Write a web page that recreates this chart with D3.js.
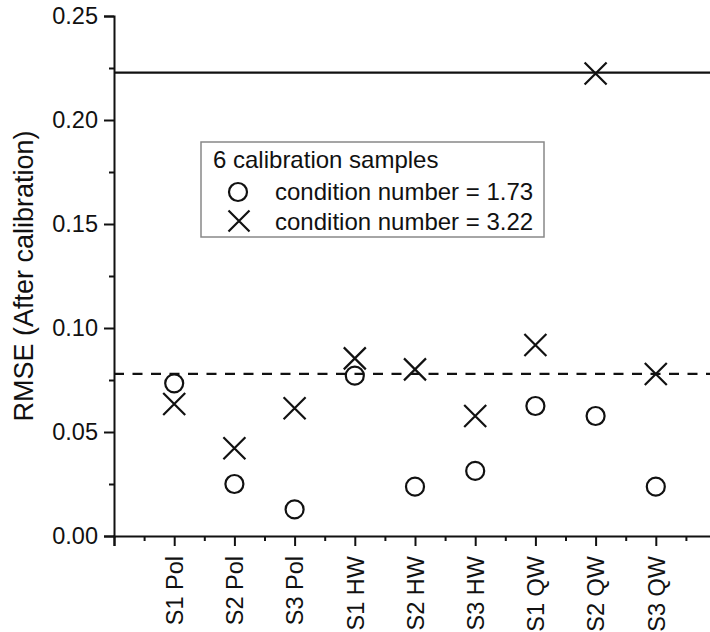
<!DOCTYPE html>
<html><head><meta charset="utf-8">
<script src="https://cdn.jsdelivr.net/npm/d3@7"></script>
<style>body{margin:0;background:#fff}svg{display:block}text{font-family:"Liberation Sans",Arial,sans-serif;fill:#111}</style>
</head><body><svg id="c" width="710" height="632"></svg>
<script>
const categories = ["S1 Pol","S2 Pol","S3 Pol","S1 HW","S2 HW","S3 HW","S1 QW","S2 QW","S3 QW"];
const rmseCond173 = [0.0734,0.0250,0.0128,0.0771,0.0237,0.0313,0.0625,0.0577,0.0237];
const rmseCond322 = [0.0635,0.0422,0.0614,0.0854,0.0801,0.0577,0.0918,0.2224,0.0779];
const solidRef = 0.2228;
const dashedRef = 0.0779;
const yMajorTicks = [0,0.05,0.10,0.15,0.20,0.25];
const yMinorTicks = [0.025,0.075,0.125,0.175,0.225];
const legendTitle = "6 calibration samples";
const legendLabels = ["condition number = 1.73","condition number = 3.22"];
const yTitle = "RMSE (After calibration)";

const svg = d3.select("#c");
const x = d3.scaleLinear().domain([0,10]).range([114,716]);
const y = d3.scaleLinear().domain([0,0.25]).range([536,16]);
const ink = "#111";

// reference lines
svg.append("line").attr("x1",x(0)).attr("x2",710).attr("y1",y(solidRef)).attr("y2",y(solidRef))
  .attr("stroke",ink).attr("stroke-width",2.2);
svg.append("line").attr("x1",x(0)).attr("x2",710).attr("y1",y(dashedRef)).attr("y2",y(dashedRef))
  .attr("stroke",ink).attr("stroke-width",2.2).attr("stroke-dasharray","10,8.5");

// y axis
const yAxis = d3.axisLeft(y).tickValues(yMajorTicks).tickSize(10).tickPadding(6).tickFormat(d3.format(".2f"));
const gy = svg.append("g").attr("transform",`translate(${x(0)},0)`).call(yAxis);
gy.selectAll("text").style("font-size","23.5px").attr("fill",ink);
svg.append("g").attr("transform",`translate(${x(0)},0)`)
  .call(d3.axisLeft(y).tickValues(yMinorTicks).tickSize(5).tickFormat(""))
  .select(".domain").remove();

// x axis
const catPos = categories.map((c,i)=>i+1);
const xAxis = d3.axisBottom(x).tickValues([0].concat(catPos)).tickSize(10).tickPadding(5)
  .tickFormat(d=> d===0 ? "" : categories[d-1]);
const gx = svg.append("g").attr("transform",`translate(0,${y(0)})`).call(xAxis);
gx.selectAll("text").style("font-size","23.5px").attr("fill",ink)
  .attr("text-anchor","end").attr("transform","rotate(-90)")
  .attr("x",-20).attr("y",0).attr("dy","0.35em");
const minorX = d3.range(0,10).map(i=>i+0.5);
svg.append("g").attr("transform",`translate(0,${y(0)})`)
  .call(d3.axisBottom(x).tickValues(minorX).tickSize(5).tickFormat(""))
  .select(".domain").remove();
svg.selectAll(".domain").attr("stroke",ink).attr("stroke-width",2);
svg.selectAll(".tick line").attr("stroke",ink).attr("stroke-width",2);

// y title
svg.append("text").attr("transform",`translate(33,276) rotate(-90)`).attr("text-anchor","middle")
  .style("font-size","27px").text(yTitle);

// markers
function cross(g,cx,cy,h){
  g.append("path").attr("d",`M${cx-h},${cy-h}L${cx+h},${cy+h}M${cx-h},${cy+h}L${cx+h},${cy-h}`)
   .attr("stroke",ink).attr("stroke-width",2.2).attr("fill","none");
}
const gm = svg.append("g");
rmseCond173.forEach((v,i)=>{
  gm.append("circle").attr("cx",x(i+1)).attr("cy",y(v)).attr("r",9)
    .attr("fill","none").attr("stroke",ink).attr("stroke-width",2.2);
});
rmseCond322.forEach((v,i)=>cross(gm,x(i+1),y(v),11));

// legend
const lg = svg.append("g");
lg.append("rect").attr("x",201).attr("y",142).attr("width",343).attr("height",95)
  .attr("fill","#fff").attr("stroke","#888").attr("stroke-width",1.5);
lg.append("text").attr("x",213).attr("y",168).style("font-size","24px").text(legendTitle);
lg.append("circle").attr("cx",238).attr("cy",192).attr("r",9).attr("fill","none").attr("stroke",ink).attr("stroke-width",2.2);
lg.append("text").attr("x",275).attr("y",200).style("font-size","24px").text(legendLabels[0]);
cross(lg,239,221,10.5);
lg.append("text").attr("x",275).attr("y",230).style("font-size","24px").text(legendLabels[1]);
</script></body></html>
